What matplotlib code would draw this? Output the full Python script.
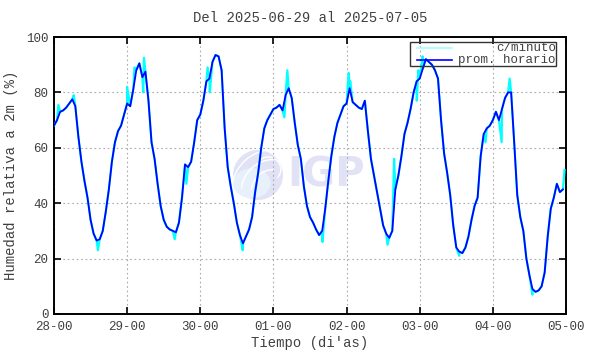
import numpy as np
import matplotlib
matplotlib.use('Agg')
import matplotlib.pyplot as plt
from matplotlib.patches import Ellipse, Rectangle, Arc
from matplotlib.lines import Line2D

plt.rcParams['font.family'] = ['Liberation Mono', 'DejaVu Sans Mono']

# etiquetas del eje x (dia-hora)
tick_labels = ['28-00', '29-00', '30-00', '01-00', '02-00', '03-00', '04-00', '05-00']

# promedio horario por dia (24 valores cada uno)
dia28 = [68, 70, 73, 73.5, 74.5, 76, 77.5, 75, 64, 55, 48, 42, 34, 29, 26.5, 27, 30, 37, 45, 55, 62, 66, 68, 72]
dia29 = [76, 75, 81, 88, 90.5, 85.5, 87.5, 77, 62, 56, 47, 39, 34, 31.5, 30.5, 30, 29.5, 33, 42, 54, 53, 55, 62, 70]
dia30 = [72, 77, 84, 85, 91, 93.5, 93, 88, 67, 53, 46, 40, 33, 28.5, 25.5, 28, 30.5, 35, 44, 51, 60, 67, 70, 72]
dia01 = [74, 74.5, 75.5, 73.5, 79, 81.5, 78, 69, 61, 56, 46, 39, 35, 33, 30.5, 28.5, 30, 38, 48, 57, 64, 69, 72, 75]
dia02 = [76, 81.5, 76.5, 75.5, 74.5, 74, 77, 66, 56, 50, 44, 38, 32, 29, 27.5, 30, 45, 50, 57, 65, 69, 74, 80, 84]
dia03 = [85, 88.5, 92, 91, 90, 88, 85, 70, 58, 51, 43, 32, 24, 22.5, 22, 24, 28, 34, 39, 42, 57, 65, 67, 68]
dia04 = [70, 73, 70, 74, 78, 80, 80, 62, 43, 35, 30, 20, 14, 9, 8, 8.5, 10, 15, 28, 38, 42, 47, 44, 45]

# picos visibles de la serie por minuto (tiempo en dias desde 28-00, valor)
pico_t = [0.06, 0.27, 0.60, 1.00, 1.10, 1.22, 1.23, 1.65, 1.81,
          2.10, 2.13, 2.58, 3.15, 3.19, 3.67, 4.03, 4.05, 4.56,
          4.65, 4.96, 4.98, 5.04, 5.54, 5.90, 6.12, 6.23, 6.54, 6.98]
pico_v = [75.5, 79, 23, 82, 89, 80, 92.5, 27, 47,
          89, 80, 23, 71, 88, 26, 87, 84, 25,
          56, 77, 88, 93, 21, 62, 62, 85, 7, 52]

horario = dia28 + dia29 + dia30 + dia01 + dia02 + dia03 + dia04
t_hora = np.arange(len(horario)) / 24.0

# serie por minuto: valores horarios mas los picos leidos
t_min = np.concatenate([t_hora, pico_t])
v_min = np.concatenate([horario, pico_v])
orden = np.argsort(t_min)
t_min, v_min = t_min[orden], v_min[orden]

fig = plt.figure(figsize=(5.9, 3.54), dpi=100)
ax = fig.add_axes([54 / 590, 40 / 354, 512 / 590, 277 / 354])

gris = '#404040'
ax.plot(t_min, v_min, color='#00ffff', lw=1.6, zorder=3)
ax.plot(t_hora, horario, color='#0000ff', lw=1.3, zorder=4)

ax.set_xlim(0, 7)
ax.set_ylim(0, 100)
ax.set_xticks(range(8))
ax.set_xticklabels(tick_labels)
ax.set_yticks(range(0, 101, 20))
ax.grid(True, color='#aaaaaa', ls=(0, (1.5, 2.5)), lw=0.8)
ax.tick_params(direction='in', length=5, width=1.2, top=True, right=True,
               labelsize=9, labelcolor=gris)
ax.tick_params(axis='x', pad=5)
ax.tick_params(axis='y', pad=4)
for s in ax.spines.values():
    s.set_linewidth(1.4)

ax.set_title('Del 2025-06-29 al 2025-07-05', fontsize=10, color=gris, pad=11)
ax.set_xlabel("Tiempo (di'as)", fontsize=10, color=gris, labelpad=2)
ax.set_ylabel('Humedad relativa a 2m (%)', fontsize=10, color=gris, labelpad=6)

# marca de agua IGP
lila = '#e2e2f6'
cx, cy = (258 - 54) / 512, (314 - 175) / 277
w, h = 50 / 512, 50 / 277
ax.add_patch(Ellipse((cx, cy), w, h, transform=ax.transAxes,
                     facecolor=lila, edgecolor='none', zorder=1))
ax.add_patch(Ellipse((cx - 0.012, cy - 0.03), w * 0.75, h * 0.6, transform=ax.transAxes,
                     facecolor='#e8f0fc', edgecolor='none', zorder=1))
for k in [0.55, 0.8, 1.05]:
    ax.add_patch(Arc((cx + 0.03, cy - 0.06), w * k * 1.6, h * k * 1.6, theta1=90, theta2=170,
                     transform=ax.transAxes, color='white', lw=1.0, zorder=1))
ax.add_patch(Arc((cx + 0.02, cy + 0.02), w * 0.5, h * 0.5, theta1=-60, theta2=120,
                 transform=ax.transAxes, color='white', lw=1.0, zorder=1))
ax.text((287 - 54) / 512, cy, 'IGP', fontsize=29, fontweight='bold',
        family='DejaVu Sans', color=lila, va='center', ha='left',
        transform=ax.transAxes, zorder=1)

# leyenda manual estilo gnuplot
ax.add_patch(Rectangle((410 / 590, (354 - 66) / 354), 146 / 590, 24 / 354,
                       transform=fig.transFigure, fill=False, edgecolor='#333333',
                       lw=1.0, zorder=6))
fig.lines.append(Line2D([417 / 590, 452 / 590], [(354 - 48) / 354] * 2,
                        transform=fig.transFigure, color='#a0ffff', lw=1.2))
fig.lines.append(Line2D([417 / 590, 452 / 590], [(354 - 60) / 354] * 2,
                        transform=fig.transFigure, color='#0000ff', lw=1.2))
fig.text(556 / 590, (354 - 48) / 354, 'c/minuto', ha='right', va='center',
         fontsize=9, color=gris)
fig.text(556 / 590, (354 - 60) / 354, 'prom. horario', ha='right', va='center',
         fontsize=9, color=gris)

fig.savefig('out.png', dpi=100)
